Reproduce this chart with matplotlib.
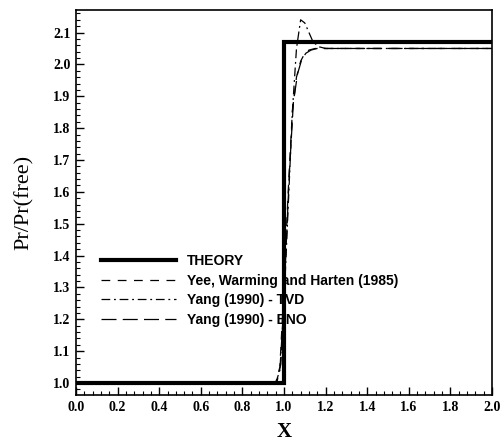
import matplotlib
matplotlib.use("Agg")
import matplotlib.pyplot as plt
from matplotlib.ticker import MultipleLocator

theory_x = [0.0, 1.0, 1.0, 2.0]
theory_y = [1.0, 1.0, 2.07, 2.07]

yee_x = [0.0, 0.96, 0.98, 1.0, 1.02, 1.04, 1.06, 1.08, 1.10, 1.12, 1.15, 1.20, 2.0]
yee_y = [1.0, 1.0, 1.05, 1.30, 1.60, 1.85, 1.96, 2.01, 2.035, 2.045, 2.05, 2.05, 2.05]

tvd_x = [0.0, 0.96, 0.98, 1.0, 1.02, 1.04, 1.06, 1.08, 1.10, 1.12, 1.14, 1.17, 1.20, 2.0]
tvd_y = [1.0, 1.0, 1.04, 1.25, 1.55, 1.85, 2.05, 2.14, 2.13, 2.10, 2.07, 2.055, 2.05, 2.05]

eno_x = [0.0, 0.965, 0.985, 1.005, 1.025, 1.045, 1.065, 1.085, 1.105, 1.13, 1.16, 1.20, 2.0]
eno_y = [1.0, 1.0, 1.06, 1.35, 1.65, 1.88, 1.97, 2.015, 2.035, 2.045, 2.05, 2.05, 2.05]

labels = ["THEORY", "Yee, Warming and Harten (1985)", "Yang (1990) - TVD", "Yang (1990) - ENO"]

xticks = [0.0, 0.2, 0.4, 0.6, 0.8, 1.0, 1.2, 1.4, 1.6, 1.8, 2.0]
yticks = [1.0, 1.1, 1.2, 1.3, 1.4, 1.5, 1.6, 1.7, 1.8, 1.9, 2.0, 2.1]

fig = plt.figure(figsize=(5, 4.45), dpi=100)
ax = fig.add_axes([0.152, 0.112, 0.832, 0.865])

ax.plot(yee_x, yee_y, color="black", lw=0.9, dashes=(7, 6), label=labels[1])
ax.plot(tvd_x, tvd_y, color="black", lw=0.9, dashes=(7, 3, 1.5, 3), label=labels[2])
ax.plot(eno_x, eno_y, color="black", lw=0.9, dashes=(12, 5), label=labels[3])
ax.plot(theory_x, theory_y, color="black", lw=3.0, label=labels[0], solid_joinstyle="miter")

ax.set_xlim(0.0, 2.0)
ax.set_ylim(0.962, 2.17)
ax.xaxis.set_minor_locator(MultipleLocator(0.04))
ax.yaxis.set_minor_locator(MultipleLocator(0.02))
ax.tick_params(which="both", direction="in", top=False, right=False)
ax.tick_params(which="major", length=6, width=1, pad=4)
ax.tick_params(which="minor", length=3, width=0.8)
for s in ax.spines.values():
    s.set_linewidth(1.2)

serif = {"family": "Liberation Serif", "weight": "bold", "size": 10}
ax.set_xticks(xticks)
ax.set_xticklabels([f"{v:.1f}" for v in xticks], fontdict=serif)
ax.set_yticks(yticks)
ax.set_yticklabels([f"{v:.1f}" for v in yticks], fontdict=serif)

ax.set_xlabel("X", family="Liberation Serif", fontsize=15, fontweight="bold", labelpad=6)
ax.set_ylabel("Pr/Pr(free)", family="Liberation Serif", fontsize=16, labelpad=14)

h, l = ax.get_legend_handles_labels()
order = [3, 0, 1, 2]
leg = ax.legend([h[i] for i in order], [l[i] for i in order], loc="upper left",
                bbox_to_anchor=(0.03, 0.40), frameon=False, handlelength=5.4,
                handletextpad=0.8, labelspacing=0.42,
                prop={"family": "Liberation Sans", "weight": "bold", "size": 10})

fig.savefig("out.png", dpi=100)
